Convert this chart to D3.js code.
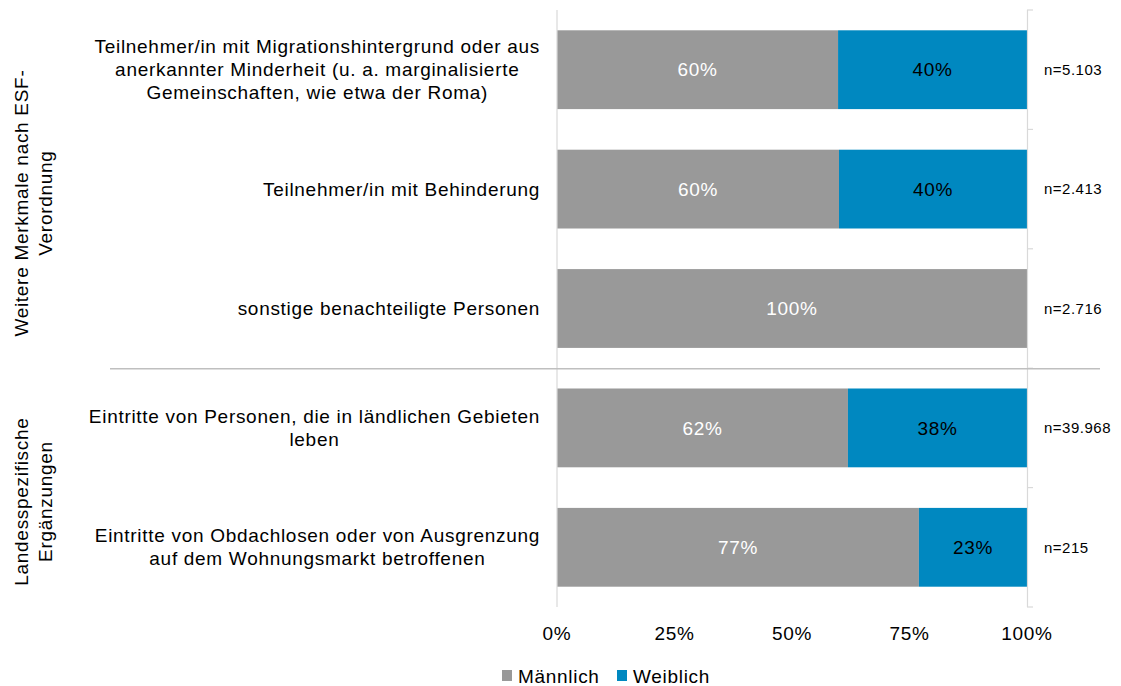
<!DOCTYPE html>
<html>
<head>
<meta charset="utf-8">
<script src="https://d3js.org/d3.v7.min.js"></script>
<style>
  body { margin: 0; background: #fff; }
  svg { font-family: "Liberation Sans", Arial, sans-serif; }
  .big { font-size: 19px; letter-spacing: 0.7px; }
</style>
</head>
<body>
<div id="chart"></div>
<script>
// category labels (lines), grouped
const categories = [
  ["Teilnehmer/in mit Migrationshintergrund oder aus", "anerkannter Minderheit (u. a. marginalisierte", "Gemeinschaften, wie etwa der Roma)"],
  ["Teilnehmer/in mit Behinderung"],
  ["sonstige benachteiligte Personen"],
  ["Eintritte von Personen, die in ländlichen Gebieten", "leben"],
  ["Eintritte von Obdachlosen oder von Ausgrenzung", "auf dem Wohnungsmarkt betroffenen"]
];
const maennlich = [59.8, 60.0, 100, 61.9, 77.0];
const weiblich = [40.2, 40.0, 0, 38.1, 23.0];
const nLabels = ["n=5.103", "n=2.413", "n=2.716", "n=39.968", "n=215"];
const groups = [
  { lines: ["Weitere Merkmale nach ESF-", "Verordnung"], from: 0, to: 3 },
  { lines: ["Landesspezifische", "Ergänzungen"], from: 3, to: 5 }
];
const seriesNames = ["Männlich", "Weiblich"];
const colors = ["#999999", "#0088C0"];
const ticks = [0, 25, 50, 75, 100];

const W = 1121, H = 686;
const mLeft = 557, mRight = 1027, mTop = 10, mBottom = 607;

const svg = d3.select("#chart").append("svg")
  .attr("width", W).attr("height", H);

const x = d3.scaleLinear().domain([0, 100]).range([mLeft, mRight]);
const y = d3.scaleBand().domain(d3.range(categories.length))
  .range([mTop, mBottom]).paddingInner(0.34).paddingOuter(0.17);
const yb = d3.scaleBand().domain(d3.range(categories.length)).range([mTop, mBottom]);

// bars
const stacks = maennlich.map((m, i) => [
  { s: 0, x0: 0, x1: m, v: m },
  { s: 1, x0: m, x1: m + weiblich[i], v: weiblich[i] }
]);

const rows = svg.selectAll("g.row").data(stacks).enter().append("g")
  .attr("class", "row");

rows.each(function(d, i) {
  const g = d3.select(this);
  d.filter(p => p.v > 0).forEach(p => {
    g.append("rect")
      .attr("x", x(p.x0)).attr("width", x(p.x1) - x(p.x0))
      .attr("y", y(i)).attr("height", y.bandwidth())
      .attr("fill", colors[p.s]);
    g.append("text")
      .attr("class", "big")
      .attr("x", (x(p.x0) + x(p.x1)) / 2)
      .attr("y", y(i) + y.bandwidth() / 2)
      .attr("dy", "0.35em")
      .attr("text-anchor", "middle")
      .attr("fill", p.s === 0 ? "#fff" : "#000")
      .text(Math.round(p.v) + "%");
  });
});

// left axis line
svg.append("line")
  .attr("x1", mLeft).attr("x2", mLeft).attr("y1", mTop).attr("y2", mBottom)
  .attr("stroke", "#d9d9d9").attr("stroke-width", 1.2);

// right axis with ticks
svg.append("line")
  .attr("x1", mRight + 0.5).attr("x2", mRight + 0.5).attr("y1", mTop).attr("y2", mBottom)
  .attr("stroke", "#d9d9d9").attr("stroke-width", 1.2);
svg.selectAll("line.rtick").data(d3.range(categories.length + 1)).enter().append("line")
  .attr("x1", mRight).attr("x2", mRight + 6)
  .attr("y1", i => i < categories.length ? yb(i) : mBottom)
  .attr("y2", i => i < categories.length ? yb(i) : mBottom)
  .attr("stroke", "#d9d9d9").attr("stroke-width", 1.2);

// group separator
svg.append("line")
  .attr("x1", 110).attr("x2", 1100)
  .attr("y1", yb(3) + 0.5).attr("y2", yb(3) + 0.5)
  .attr("stroke", "#bfbfbf").attr("stroke-width", 1.5);

// x tick labels
svg.selectAll("text.xt").data(ticks).enter().append("text")
  .attr("class", "big")
  .attr("x", d => x(d)).attr("y", 640)
  .attr("text-anchor", "middle").attr("fill", "#000")
  .text(d => d + "%");

// category labels: block right-aligned at 540, lines centred within block
const lh = 23;
categories.forEach((lines, i) => {
  const cy = y(i) + y.bandwidth() / 2;
  const t = svg.append("text")
    .attr("class", "big")
    .attr("text-anchor", "middle").attr("fill", "#000");
  const spans = lines.map((l, k) => t.append("tspan")
    .attr("y", cy + (k - (lines.length - 1) / 2) * lh)
    .attr("dy", "0.35em").text(l));
  const maxW = d3.max(spans, s => s.node().getComputedTextLength());
  spans.forEach(s => s.attr("x", 540 - maxW / 2));
});

// n labels
svg.selectAll("text.n").data(nLabels).enter().append("text")
  .attr("x", 1044).attr("y", (d, i) => y(i) + y.bandwidth() / 2)
  .attr("dy", "0.35em").attr("font-size", 15).attr("letter-spacing", 0.5)
  .attr("fill", "#000")
  .text(d => d);

// group labels (rotated)
groups.forEach(gr => {
  const cy = (yb(gr.from) + (gr.to < categories.length ? yb(gr.to) : mBottom)) / 2 + 14;
  const t = svg.append("text")
    .attr("class", "big")
    .attr("transform", "translate(21," + cy + ") rotate(-90)")
    .attr("text-anchor", "middle").attr("fill", "#000");
  gr.lines.forEach((l, k) => {
    t.append("tspan").attr("x", 0).attr("y", k * 24).attr("dy", "0.35em").text(l);
  });
});

// legend
const legend = [{ x: 502 }, { x: 617 }];
seriesNames.forEach((s, i) => {
  svg.append("rect").attr("x", legend[i].x).attr("y", 670)
    .attr("width", 10).attr("height", 11).attr("fill", colors[i]);
  svg.append("text").attr("class", "big").attr("x", legend[i].x + 16).attr("y", 676)
    .attr("dy", "0.35em").attr("fill", "#000").text(s);
});
</script>
</body>
</html>
